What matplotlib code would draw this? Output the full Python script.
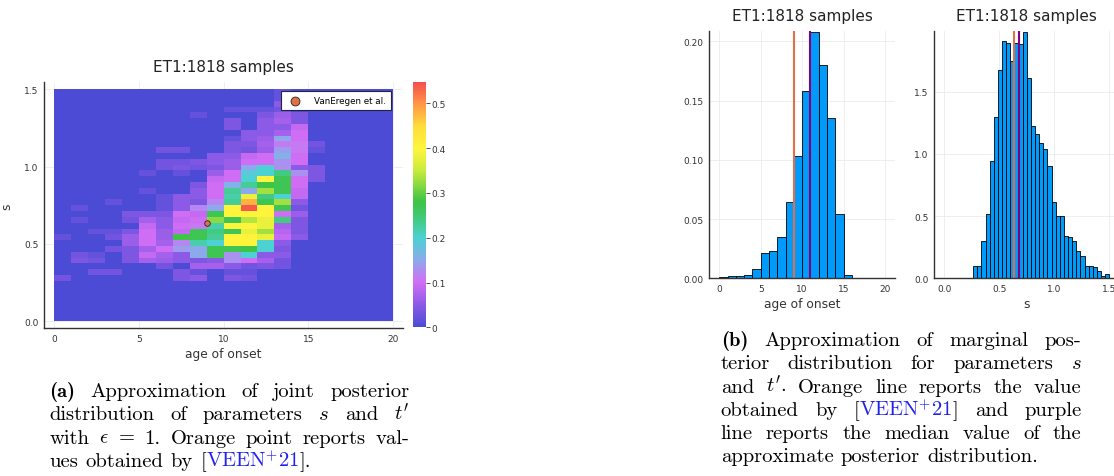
import numpy as np
import matplotlib
matplotlib.use("Agg")
import matplotlib.pyplot as plt
from matplotlib.colors import LinearSegmentedColormap

plt.rcParams['font.family'] = 'DejaVu Sans'
plt.rcParams['mathtext.fontset'] = 'cm'

# ---- data ----
age_edges = np.arange(0, 21, 1)
s_edges = np.linspace(0, 1.5, 41)

# joint posterior density (hundredths); rows start at s=0.2625, columns are ages 0..15
first_row = 7
heat_rows = [
    [3, 0, 0, 0, 0, 0, 0, 4, 5, 0, 4, 3, 0, 0, 0, 0],
    [0, 0, 3, 3, 0, 0, 0, 4, 2, 0, 2, 2, 0, 0, 0, 0],
    [0, 0, 0, 0, 0, 0, 3, 0, 7, 7, 5, 3, 4, 3, 0, 0],
    [0, 4, 3, 0, 4, 7, 6, 5, 4, 5, 13, 10, 7, 3, 0, 0],
    [0, 3, 2, 0, 4, 9, 7, 5, 15, 27, 13, 20, 5, 5, 0, 0],
    [0, 0, 0, 3, 4, 7, 10, 14, 15, 27, 27, 28, 20, 4, 0, 0],
    [0, 0, 0, 0, 6, 10, 7, 12, 22, 20, 40, 40, 20, 5, 0, 0],
    [2, 0, 0, 3, 6, 10, 6, 28, 27, 23, 40, 40, 38, 9, 5, 0],
    [0, 0, 2, 2, 4, 10, 6, 9, 27, 24, 27, 38, 33, 8, 4, 0],
    [0, 0, 0, 0, 0, 9, 5, 10, 11, 22, 40, 40, 38, 7, 4, 0],
    [0, 2, 0, 0, 3, 7, 5, 9, 10, 32, 27, 34, 38, 24, 4, 0],
    [0, 0, 0, 0, 4, 4, 4, 10, 9, 27, 40, 40, 40, 10, 6, 0],
    [0, 2, 0, 0, 0, 0, 2, 5, 12, 15, 40, 54, 40, 27, 3, 0],
    [0, 0, 0, 2, 0, 0, 2, 5, 4, 12, 23, 48, 27, 33, 5, 0],
    [0, 0, 0, 0, 0, 0, 2, 5, 5, 10, 22, 38, 24, 20, 9, 0],
    [0, 0, 0, 0, 0, 2, 0, 0, 5, 10, 23, 15, 33, 27, 9, 0],
    [0, 0, 0, 0, 0, 0, 0, 0, 4, 10, 16, 23, 28, 27, 10, 0],
    [0, 0, 0, 0, 0, 0, 0, 0, 0, 9, 10, 20, 40, 27, 10, 4],
    [0, 0, 0, 0, 0, 2, 0, 2, 0, 6, 10, 19, 20, 24, 13, 4],
    [0, 0, 0, 0, 0, 0, 3, 4, 3, 4, 6, 15, 20, 13, 5, 4],
    [0, 0, 0, 0, 0, 0, 3, 3, 4, 5, 6, 10, 10, 13, 10, 0],
    [0, 0, 0, 0, 0, 0, 0, 0, 0, 5, 5, 9, 10, 16, 10, 0],
    [0, 0, 0, 0, 0, 0, 3, 3, 0, 0, 4, 3, 6, 14, 11, 2],
    [0, 0, 0, 0, 0, 0, 0, 0, 0, 0, 4, 4, 7, 11, 11, 3],
    [0, 0, 0, 0, 0, 0, 0, 0, 0, 0, 2, 5, 6, 15, 10, 0],
    [0, 0, 0, 0, 0, 0, 0, 0, 0, 0, 0, 5, 5, 7, 10, 0],
    [0, 0, 0, 0, 0, 0, 0, 0, 0, 0, 4, 0, 5, 5, 9, 0],
    [0, 0, 0, 0, 0, 0, 0, 0, 0, 0, 4, 0, 5, 7, 4, 0],
    [0, 0, 0, 0, 0, 0, 0, 0, 2, 0, 0, 0, 4, 6, 4, 0],
    [0, 0, 0, 0, 0, 0, 0, 0, 0, 0, 2, 2, 2, 3, 0, 0],
    [0, 0, 0, 0, 0, 0, 0, 0, 0, 0, 0, 0, 0, 5, 0, 0],
    [0, 0, 0, 0, 0, 0, 0, 0, 0, 0, 0, 0, 0, 2, 0, 0],
    [0, 0, 0, 0, 0, 0, 0, 0, 0, 0, 0, 0, 0, 2, 0, 0],
]

veen_age = 9
veen_s = 0.633
median_age = 10.95
median_s = 0.679

# marginal of age of onset, bins of width 1 from 0 to 20
age_density = [0.001, 0.002, 0.002, 0.003, 0.008, 0.021, 0.023, 0.035, 0.064, 0.103,
               0.158, 0.208, 0.180, 0.135, 0.054, 0.003, 0, 0, 0, 0]
# marginal of s, same bins as the heatmap rows
s_density = [0, 0, 0, 0, 0, 0, 0,
             0.10, 0.10, 0.30, 0.52, 0.94, 1.30, 1.67, 1.91, 1.89, 1.75,
             1.89, 1.88, 1.98, 1.61, 1.22, 1.16, 1.09, 1.04, 0.90, 0.61,
             0.50, 0.50, 0.34, 0.33, 0.30, 0.22, 0.18, 0.10, 0.10, 0.09,
             0.06, 0.02, 0.035]

title = "ET1:1818 samples"
blue = '#009AFA'
orange = '#E36F47'
purple = '#800080'
grid_c = '#EBEBEB'
txt_c = '#333333'

grid = np.zeros((len(s_edges) - 1, len(age_edges) - 1))
for i, row in enumerate(heat_rows):
    grid[first_row + i, :len(row)] = np.array(row) / 100.0

cmap = LinearSegmentedColormap.from_list('ramp', [
    (0.0, '#4B4BD6'), (0.05 / 0.547, '#8C5AE6'), (0.1 / 0.547, '#D26EF5'),
    (0.15 / 0.547, '#8CAAEB'), (0.2 / 0.547, '#4BD2D2'), (0.25 / 0.547, '#41C86E'),
    (0.28 / 0.547, '#3CC346'), (0.35 / 0.547, '#C8EB3C'), (0.4 / 0.547, '#FFF53C'),
    (0.45 / 0.547, '#FFDC3C'), (0.5 / 0.547, '#FF9646'), (1.0, '#F5504B')])

W, H = 1114, 477
fig = plt.figure(figsize=(W / 100, H / 100), dpi=100)


def px_axes(x0, y0, x1, y1):
    return fig.add_axes([x0 / W, 1 - y1 / H, (x1 - x0) / W, (y1 - y0) / H])


def style(ax):
    for side in ['top', 'right']:
        ax.spines[side].set_visible(False)
    for side in ['left', 'bottom']:
        ax.spines[side].set_color(txt_c)
        ax.spines[side].set_linewidth(1.0)
    ax.tick_params(length=0, labelsize=6.5, labelcolor=txt_c, pad=4)
    ax.grid(True, color=grid_c, lw=0.6)
    ax.set_axisbelow(True)


# ---- (a) joint heatmap ----
ax = px_axes(44.3, 83.3, 403, 329.3)
style(ax)
mesh = ax.pcolormesh(age_edges, s_edges, grid, cmap=cmap, vmin=0, vmax=0.547)
ax.scatter([veen_age], [veen_s], s=16, color=orange, edgecolor='#222222', lw=0.6,
           zorder=3, label='VanEregen et al.')
ax.set_xlim(-0.6, 20.6)
ax.set_ylim(-0.045, 1.545)
ax.set_xticks([0, 5, 10, 15, 20])
ax.set_yticks([0, 0.5, 1.0, 1.5])
ax.set_yticklabels(['0.0', '0.5', '1.0', '1.5'])
ax.set_xlabel('age of onset', fontsize=8.8, color=txt_c, labelpad=3)
ax.set_ylabel('s', fontsize=8.8, color=txt_c, labelpad=8)
ax.set_title(title, fontsize=11, color='#222222', pad=8)
leg = ax.legend(loc='upper right', bbox_to_anchor=(0.9666, 0.966), borderaxespad=0,
                fontsize=6.3, markerscale=1.6, fancybox=False, framealpha=1,
                borderpad=0.6, handletextpad=1.2)
leg.get_frame().set_edgecolor('#222244')
leg.get_frame().set_linewidth(0.8)

cax = px_axes(412.7, 83.3, 426, 328.3)
cb = fig.colorbar(mesh, cax=cax)
cb.outline.set_visible(False)
cb.set_ticks([0, 0.1, 0.2, 0.3, 0.4, 0.5])
cb.set_ticklabels(['0', '0.1', '0.2', '0.3', '0.4', '0.5'])
cax.tick_params(length=3, width=0.6, labelsize=6.5, color=txt_c, labelcolor=txt_c, pad=1)

# ---- (b) marginals ----
ax1 = px_axes(709.3, 32.3, 895, 279.3)
style(ax1)
ax1.bar(age_edges[:-1], age_density, width=1, align='edge', color=blue,
        edgecolor='black', lw=0.6)
ax1.axvline(veen_age, color=orange, lw=1.5)
ax1.axvline(median_age, color=purple, lw=1.5)
ax1.set_xlim(-1.2, 21.2)
ax1.set_ylim(0, 0.2085)
ax1.set_xticks([0, 5, 10, 15, 20])
ax1.set_yticks([0, 0.05, 0.10, 0.15, 0.20])
ax1.set_yticklabels(['0.00', '0.05', '0.10', '0.15', '0.20'])
ax1.set_xlabel('age of onset', fontsize=8.8, color=txt_c, labelpad=3)
ax1.set_title(title, fontsize=11, color='#222222', pad=8)

ax2 = px_axes(934.3, 32.3, 1119.2, 279.3)
style(ax2)
ax2.bar(s_edges[:-1], s_density, width=s_edges[1] - s_edges[0], align='edge',
        color=blue, edgecolor='black', lw=0.6)
ax2.axvline(veen_s, color=orange, lw=1.5)
ax2.axvline(median_s, color=purple, lw=1.5)
ax2.set_xlim(-0.091, 1.59)
ax2.set_ylim(0, 1.985)
ax2.set_xticks([0, 0.5, 1.0, 1.5])
ax2.set_xticklabels(['0.0', '0.5', '1.0', '1.5'])
ax2.set_yticks([0, 0.5, 1.0, 1.5])
ax2.set_yticklabels(['0.0', '0.5', '1.0', '1.5'])
ax2.set_xlabel('s', fontsize=8.8, color=txt_c, labelpad=3)
ax2.set_title(title, fontsize=11, color='#222222', pad=8)

# ---- captions (justified lines, Computer Modern) ----
cite_blue = '#2020F0'
cap_size = 14.8


def cite(tail):
    return [('[', 'black', 'cmr10'), ('VEEN$^{+}$21', cite_blue, 'cmr10'), (tail, 'black', 'cmr10')]


cap_a = [
    [[('(a)', 'black', 'cmb10')], 'Approximation', 'of', 'joint', 'posterior'],
    ['distribution', 'of', 'parameters', '$s$', 'and', "$t'$"],
    ['with', r'$\epsilon$', '=', '1.', 'Orange', 'point', 'reports', 'val-'],
    ['ues', 'obtained', 'by', cite('].')],
]
cap_b = [
    [[('(b)', 'black', 'cmb10')], 'Approximation', 'of', 'marginal', 'pos-'],
    ['terior', 'distribution', 'for', 'parameters', '$s$'],
    ['and', "$t'$.", 'Orange', 'line', 'reports', 'the', 'value'],
    ['obtained', 'by', cite(']'), 'and', 'purple'],
    ['line', 'reports', 'the', 'median', 'value', 'of', 'the'],
    ['approximate', 'posterior', 'distribution.'],
]

renderer = fig.canvas.get_renderer()


def caption_line(x0, x1, y, words, justify):
    items = []
    for w in words:
        pieces = w if isinstance(w, list) else [(w, 'black', 'cmr10')]
        texts = []
        width = 0
        for s, c, fam in pieces:
            t = fig.text(0, 1 - y / H, s, fontsize=cap_size, family=fam, color=c,
                         va='baseline', ha='left')
            bw = t.get_window_extent(renderer=renderer).width
            texts.append((t, width))
            width += bw
        items.append((texts, width))
    total = sum(w for _, w in items)
    if justify and len(items) > 1:
        gap = (x1 - x0 - total) / (len(items) - 1)
    else:
        gap = 0.36 * cap_size * 100 / 72
    x = x0
    for texts, width in items:
        for t, off in texts:
            t.set_x((x + off) / W)
        x += width + gap


for i, line in enumerate(cap_a):
    caption_line(49.3, 409.3, 397 + 23.3 * i, line, i < len(cap_a) - 1)
for i, line in enumerate(cap_b):
    caption_line(720.7, 1081.7, 346 + 23.3 * i, line, i < len(cap_b) - 1)

fig.savefig('out.png', dpi=100)
